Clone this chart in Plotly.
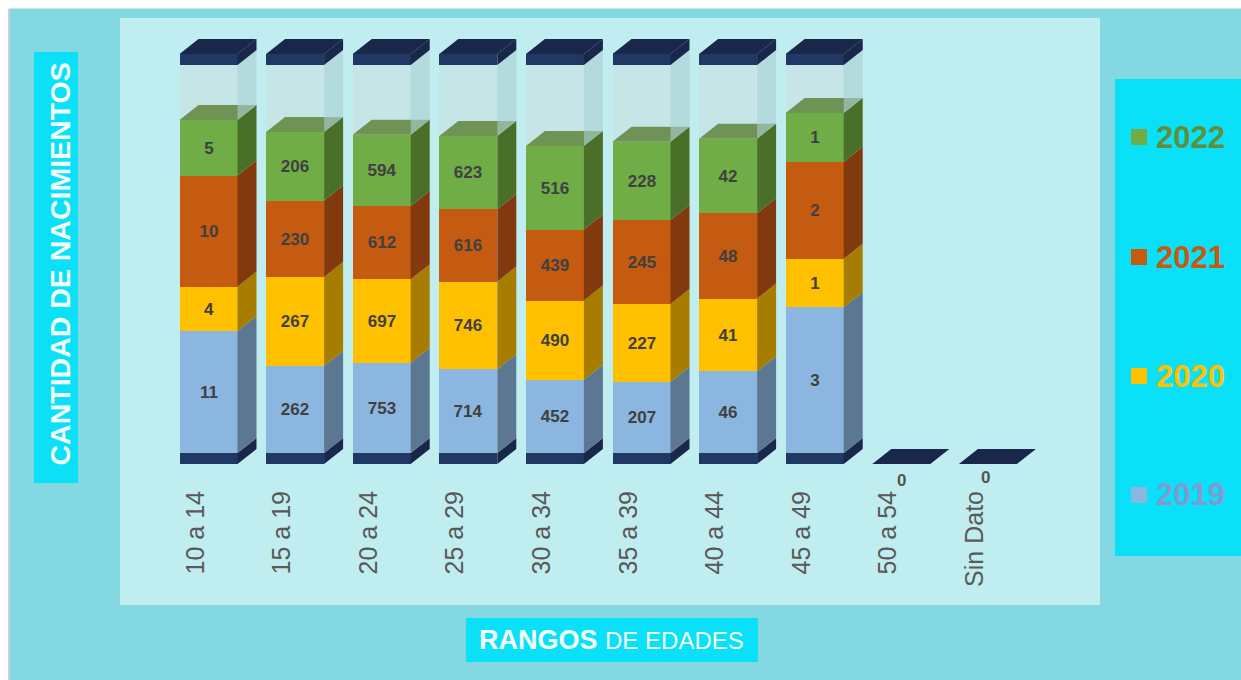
import plotly.graph_objects as go

categories = ["10 a 14", "15 a 19", "20 a 24", "25 a 29", "30 a 34", "35 a 39", "40 a 44", "45 a 49", "50 a 54", "Sin Dato"]
v2019 = [11, 262, 753, 714, 452, 207, 46, 3, 0, 0]
v2020 = [4, 267, 697, 746, 490, 227, 41, 1, 0, 0]
v2021 = [10, 230, 612, 616, 439, 245, 48, 2, 0, 0]
v2022 = [5, 206, 594, 623, 516, 228, 42, 1, 0, 0]
# share of the full column that each stack fills (percent)
stack_fill = [85.8, 82.7, 82.0, 81.7, 79.1, 80.2, 81.0, 87.6, 0, 0]

W, H = 1241, 680
L, R, T, B = 120, 1100, 18, 470          # plot area in page pixels
PXU = 3.88                                # pixels per percent
STEP = 86.6                               # pixels per category
FIRST = 208.5
BASE_PX = 453
bar_w = 58 / STEP
dx = 19 / STEP
dy = 15 / PXU
slab = 11 / PXU
full = 100

def xp(px): return (px - L) / (R - L)
def yp(py): return (B - py) / (B - T)

series = [("2019", v2019, "#8AB6E0", "#5B7792"),
          ("2020", v2020, "#FFC000", "#A67D00"),
          ("2021", v2021, "#C55A11", "#82390D"),
          ("2022", v2022, "#70AD47", "#4A6F29")]
NAVY, NAVY_D = "#1F3864", "#18274A"
xs = list(range(len(categories)))
totals = [sum(s[1][i] for s in series) for i in xs]
has = [t > 0 for t in totals]

fig = go.Figure()

# slab below zero
fig.add_bar(x=xs, y=[-slab if h else None for h in has], marker_color=NAVY, width=bar_w,
            marker_line_width=0, showlegend=False, hoverinfo="skip")
# stacked segments
seg = {}
for name, vals, col, _ in series:
    ys = [vals[i] / totals[i] * stack_fill[i] if has[i] else 0 for i in xs]
    seg[name] = ys
    fig.add_bar(x=xs, y=ys, name=name, marker_color=col, width=bar_w, marker_line_width=0,
                text=[f"<b>{v}</b>" if has[i] else "" for i, v in enumerate(vals)],
                textposition="inside", insidetextanchor="middle", textangle=0,
                constraintext="none",
                textfont=dict(family="Liberation Sans", size=17, color="#404040"),
                showlegend=False)
# glass remainder and cap
fig.add_bar(x=xs, y=[full - f if h else 0 for f, h in zip(stack_fill, has)],
            marker_color="rgba(200,226,228,0.75)", width=bar_w, marker_line_width=0,
            showlegend=False, hoverinfo="skip")
fig.add_bar(x=xs, y=[slab if h else None for h in has], marker_color=NAVY, width=bar_w,
            marker_line_width=0, showlegend=False, hoverinfo="skip")

def poly(pieces, color):
    X, Y = [], []
    for px, py in pieces:
        X += px + [None]
        Y += py + [None]
    fig.add_scatter(x=X, y=Y, mode="lines", line=dict(width=0), fill="toself", fillcolor=color,
                    showlegend=False, hoverinfo="skip")

def side(i, y0, y1):
    r = i + bar_w / 2
    return [r, r + dx, r + dx, r, r], [y0, y0 + dy, y1 + dy, y1, y0]

def top(i, y):
    l, r = i - bar_w / 2, i + bar_w / 2
    return [l, l + dx, r + dx, r, l], [y, y + dy, y + dy, y, y]

active = [i for i in xs if has[i]]
poly([side(i, -slab, 0) for i in active], NAVY_D)
poly([top(i, -slab) for i in xs if not has[i]], NAVY_D)
cum = {i: 0 for i in xs}
for name, _, _, dark in series:
    pieces = []
    for i in active:
        pieces.append(side(i, cum[i], cum[i] + seg[name][i]))
        cum[i] += seg[name][i]
    poly(pieces, dark)
poly([top(i, stack_fill[i]) for i in active], "#6E9354")
poly([side(i, stack_fill[i], full) for i in active], "rgba(170,205,208,0.6)")
poly([side(i, full, full + slab) for i in active], NAVY_D)
poly([top(i, full + slab) for i in active], NAVY_D)

shapes = [
    dict(type="rect", xref="paper", yref="paper", x0=xp(10), x1=xp(W), y0=yp(H), y1=yp(8.5),
         fillcolor="#84D8E2", line_width=0, layer="below"),
    dict(type="rect", xref="paper", yref="paper", x0=xp(8), x1=xp(10), y0=yp(H), y1=yp(8.5),
         fillcolor="#C9D3D5", line_width=0, layer="below"),
    dict(type="rect", xref="paper", yref="paper", x0=xp(120), x1=xp(1100), y0=yp(605), y1=yp(18),
         fillcolor="#C0EDF0", line_width=0, layer="below"),
    dict(type="rect", xref="paper", yref="paper", x0=xp(34), x1=xp(78), y0=yp(483), y1=yp(52),
         fillcolor="#0AE0F7", line_width=0, layer="below"),
    dict(type="rect", xref="paper", yref="paper", x0=xp(466), x1=xp(758), y0=yp(662), y1=yp(618),
         fillcolor="#0AE0F7", line_width=0, layer="below"),
    dict(type="rect", xref="paper", yref="paper", x0=xp(1115), x1=xp(W), y0=yp(556), y1=yp(79),
         fillcolor="#0AE0F7", line_width=0, layer="below"),
]
annotations = []
legend_y = {"2022": 137, "2021": 257, "2020": 376, "2019": 495}
for name, _, col, _ in series:
    cy = legend_y[name]
    shapes.append(dict(type="rect", xref="paper", yref="paper", x0=xp(1131), x1=xp(1147),
                       y0=yp(cy + 8), y1=yp(cy - 8), fillcolor=col, line_width=0))
    annotations.append(dict(xref="paper", yref="paper", x=xp(1154), y=yp(cy), text=f"<b>{name}</b>",
                            showarrow=False, xanchor="left", yanchor="middle",
                            font=dict(family="Liberation Sans", size=31,
                                      color={"2022": "#5F8F3A", "2021": "#C55A11",
                                             "2020": "#FFC000", "2019": "#7F9BD0"}[name])))
annotations.append(dict(xref="paper", yref="paper", x=xp(59), y=yp(264.5), textangle=-90,
                        xanchor="center", yanchor="middle",
                        text="<b>CANTIDAD DE NACIMIENTOS</b>", showarrow=False,
                        font=dict(family="Liberation Sans", size=28.5, color="#F2FDFE")))
annotations.append(dict(xref="paper", yref="paper", x=xp(611), y=yp(640),
                        xanchor="center", yanchor="middle",
                        text="<b>RANGOS</b> <span style='font-size:24px'>DE EDADES</span>",
                        showarrow=False,
                        font=dict(family="Liberation Sans", size=27, color="#F2FDFE")))
for i, off, sh in ((8, -27, 0), (9, -24, -2)):
    annotations.append(dict(x=i, y=0, yshift=off, xshift=sh, text="<b>0</b>", showarrow=False,
                            font=dict(family="Liberation Sans", size=17, color="#555555")))

fig.update_layout(
    barmode="relative", bargap=0, width=W, height=H,
    margin=dict(l=L, r=W - R, t=T, b=H - B, pad=0), paper_bgcolor="white",
    plot_bgcolor="rgba(0,0,0,0)", showlegend=False, shapes=shapes, annotations=annotations,
    xaxis=dict(range=[(L - FIRST) / STEP, (R - FIRST) / STEP], tickmode="array",
               tickvals=[i - 0.15 for i in xs], ticktext=categories, tickangle=-90,
               ticks="outside", ticklen=10, tickcolor="rgba(0,0,0,0)", showline=False, showgrid=False,
               zeroline=False, tickfont=dict(family="Liberation Sans", size=25, color="#595959")),
    yaxis=dict(range=[(BASE_PX - B) / PXU, (BASE_PX - T) / PXU], visible=False, showgrid=False,
               zeroline=False),
)
fig.write_html("out.html", config={"displayModeBar": False},
               post_script="document.body.style.margin='0';document.body.style.overflow='hidden';")
